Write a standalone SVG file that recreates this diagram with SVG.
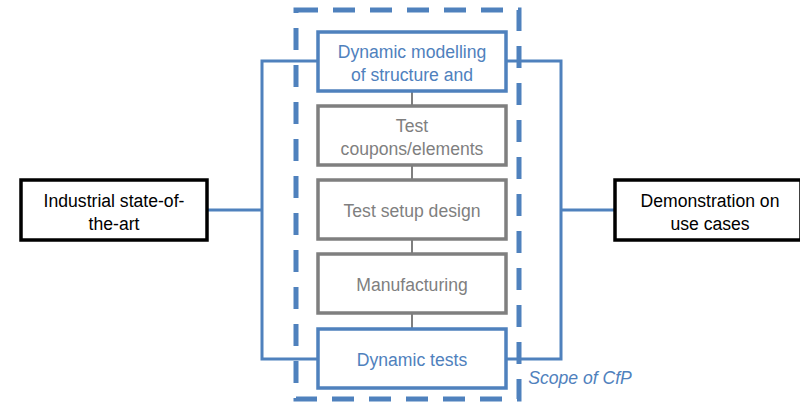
<svg xmlns="http://www.w3.org/2000/svg" width="800" height="404" viewBox="0 0 800 404">
<style>
.t{font-family:"Liberation Sans",Arial,sans-serif;font-size:17.6px;text-anchor:middle}
.blue{fill:#4f81bd}
.gray{fill:#7f7f7f}
.blk{fill:#000}
.bbox{fill:#fff;stroke:#4f81bd;stroke-width:3.5}
.gbox{fill:#fff;stroke:#7f7f7f;stroke-width:3.5}
.kbox{fill:#fff;stroke:#000;stroke-width:3.5}
.bl{fill:none;stroke:#4f81bd;stroke-width:3}
.gl{fill:none;stroke:#7f7f7f;stroke-width:2}
</style>
<rect width="800" height="404" fill="#fff"/>
<g id="connectors">
<polyline class="bl" points="318,61 262,61 262,359 318,359"/>
<line class="bl" x1="207" y1="210" x2="262" y2="210"/>
<polyline class="bl" points="506,61 561,61 561,359 506,359"/>
<line class="bl" x1="561" y1="210" x2="615" y2="210"/>
<line class="gl" x1="412" y1="91" x2="412" y2="106"/>
<line class="gl" x1="412" y1="165" x2="412" y2="180"/>
<line class="gl" x1="412" y1="239" x2="412" y2="254"/>
<line class="gl" x1="412" y1="313" x2="412" y2="329"/>
</g>
<g id="scope">
<rect x="296" y="10" width="223" height="389" fill="none" stroke="#4f81bd" stroke-width="5" stroke-dasharray="22 15"/>
<text x="580" y="384" class="t blue" font-style="italic" font-size="16.5">Scope of CfP</text>
</g>
<g id="n1">
<rect class="bbox" x="318" y="32" width="188" height="59"/>
<text x="412" y="58" class="t blue">Dynamic modelling</text>
<text x="412" y="81" class="t blue">of structure and</text>
</g>
<g id="n2">
<rect class="gbox" x="318" y="106" width="188" height="59"/>
<text x="412" y="132" class="t gray">Test</text>
<text x="412" y="155" class="t gray">coupons/elements</text>
</g>
<g id="n3">
<rect class="gbox" x="318" y="180" width="188" height="59"/>
<text x="412" y="217" class="t gray">Test setup design</text>
</g>
<g id="n4">
<rect class="gbox" x="318" y="254" width="188" height="59"/>
<text x="412" y="291" class="t gray">Manufacturing</text>
</g>
<g id="n5">
<rect class="bbox" x="318" y="329" width="188" height="59"/>
<text x="412" y="366" class="t blue">Dynamic tests</text>
</g>
<g id="n6">
<rect class="kbox" x="21" y="180" width="186" height="60"/>
<text x="114" y="207" class="t blk">Industrial state-of-</text>
<text x="114" y="230" class="t blk">the-art</text>
</g>
<g id="n7">
<rect class="kbox" x="615" y="180" width="186" height="60"/>
<text x="710" y="207" class="t blk">Demonstration on</text>
<text x="710" y="230" class="t blk">use cases</text>
</g>
</svg>
